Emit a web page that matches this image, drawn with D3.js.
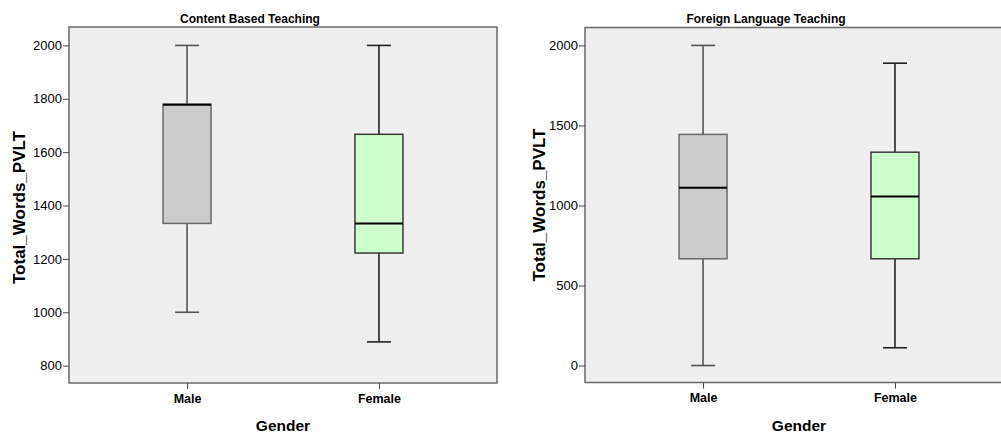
<!DOCTYPE html>
<html>
<head>
<meta charset="utf-8">
<script src="https://cdn.jsdelivr.net/npm/d3@7"></script>
<style>
  html, body { margin: 0; padding: 0; background: #ffffff; }
  svg { display: block; font-family: "Liberation Sans", Arial, sans-serif; }
</style>
</head>
<body>
<svg id="chart" width="1001" height="433"></svg>
<script>
// Category labels shared by both panels
const genders = ["Male", "Female"];

// Five-number summaries (min, Q1, median, Q3, max) per gender
const contentMin    = [1000, 889];
const contentQ1     = [1333, 1222];
const contentMedian = [1778, 1333];
const contentQ3     = [1780, 1667];
const contentMax    = [2000, 2000];

const foreignMin    = [0, 111];
const foreignQ1     = [667, 667];
const foreignMedian = [1111, 1056];
const foreignQ3     = [1444, 1333];
const foreignMax    = [2000, 1889];

// Axis tick values
const contentTicks = [800, 1000, 1200, 1400, 1600, 1800, 2000];
const foreignTicks = [0, 500, 1000, 1500, 2000];

const fills   = ["#cccccc", "#ccffcc"];
const strokes = ["#6a6a6a", "#3a3a3a"];
const whiskerStrokes = ["#555555", "#222222"];

function rows(mins, q1s, meds, q3s, maxs) {
  return genders.map((g, i) => ({
    gender: g, i, min: mins[i], q1: q1s[i], median: meds[i], q3: q3s[i], max: maxs[i]
  }));
}

const svg = d3.select("#chart");

function panel(opts) {
  const g = svg.append("g");
  const x = d3.scalePoint().domain(genders).range([opts.x0, opts.x1]).padding(0.615);
  const y = d3.scaleLinear().domain(opts.yDomain).range([opts.y1, opts.y0]);

  // plot area
  g.append("rect")
    .attr("x", opts.x0).attr("y", opts.y0)
    .attr("width", opts.x1 - opts.x0).attr("height", opts.y1 - opts.y0)
    .attr("fill", "#efefef")
    .attr("stroke", "#6a6a6a").attr("stroke-width", 1.5);

  // y axis
  const yAxis = g.append("g")
    .attr("transform", `translate(${opts.x0},0)`)
    .call(d3.axisLeft(y).tickValues(opts.ticks).tickSize(6).tickPadding(1).tickFormat(d3.format("d")));
  yAxis.select(".domain").remove();
  yAxis.selectAll(".tick line").attr("stroke", "#444").attr("stroke-width", 1);
  yAxis.selectAll(".tick text")
    .attr("fill", "#000").style("font-size", "13px").style("font-family", "'Liberation Sans', Arial, sans-serif");

  // x axis
  const xAxis = g.append("g")
    .attr("transform", `translate(0,${opts.y1})`)
    .call(d3.axisBottom(x).tickSize(6).tickPadding(5));
  xAxis.select(".domain").remove();
  xAxis.selectAll(".tick line").attr("stroke", "#444").attr("stroke-width", 1);
  xAxis.selectAll(".tick text")
    .attr("fill", "#000").style("font-size", "12.5px").style("font-weight", "bold")
    .style("font-family", "'Liberation Sans', Arial, sans-serif");

  const boxW = 48, capW = 24;
  const boxes = g.selectAll("g.box").data(opts.data).join("g").attr("class", "box");

  // whiskers
  boxes.append("line")
    .attr("x1", d => x(d.gender)).attr("x2", d => x(d.gender))
    .attr("y1", d => y(d.max)).attr("y2", d => y(d.q3))
    .attr("stroke", d => whiskerStrokes[d.i]).attr("stroke-width", 1.6);
  boxes.append("line")
    .attr("x1", d => x(d.gender)).attr("x2", d => x(d.gender))
    .attr("y1", d => y(d.q1)).attr("y2", d => y(d.min))
    .attr("stroke", d => whiskerStrokes[d.i]).attr("stroke-width", 1.6);
  // caps
  boxes.append("line")
    .attr("x1", d => x(d.gender) - capW / 2).attr("x2", d => x(d.gender) + capW / 2)
    .attr("y1", d => y(d.max)).attr("y2", d => y(d.max))
    .attr("stroke", d => whiskerStrokes[d.i]).attr("stroke-width", 1.6);
  boxes.append("line")
    .attr("x1", d => x(d.gender) - capW / 2).attr("x2", d => x(d.gender) + capW / 2)
    .attr("y1", d => y(d.min)).attr("y2", d => y(d.min))
    .attr("stroke", d => whiskerStrokes[d.i]).attr("stroke-width", 1.6);
  // box
  boxes.append("rect")
    .attr("x", d => x(d.gender) - boxW / 2).attr("width", boxW)
    .attr("y", d => y(d.q3)).attr("height", d => y(d.q1) - y(d.q3))
    .attr("fill", d => fills[d.i]).attr("stroke", d => strokes[d.i]).attr("stroke-width", 1.5);
  // median
  boxes.append("line")
    .attr("x1", d => x(d.gender) - boxW / 2).attr("x2", d => x(d.gender) + boxW / 2)
    .attr("y1", d => y(d.median)).attr("y2", d => y(d.median))
    .attr("stroke", "#000").attr("stroke-width", 2);

  // title
  g.append("text")
    .attr("x", opts.titleX).attr("y", 23)
    .attr("text-anchor", "middle")
    .style("font-size", "12px").style("font-weight", "bold").attr("fill", "#000")
    .text(opts.title);

  // y axis title
  g.append("text")
    .attr("transform", `translate(${opts.yLabelX},${opts.yLabelY}) rotate(-90)`)
    .attr("text-anchor", "middle")
    .style("font-size", "17px").style("font-weight", "bold").attr("fill", "#000")
    .text("Total_Words_PVLT");

  // x axis title
  g.append("text")
    .attr("x", (opts.x0 + opts.x1) / 2).attr("y", 431)
    .attr("text-anchor", "middle")
    .style("font-size", "15.5px").style("font-weight", "bold").attr("fill", "#000")
    .text("Gender");
}

panel({
  x0: 69, x1: 497, y0: 27, y1: 383,
  yDomain: [735, 2069],
  ticks: contentTicks,
  data: rows(contentMin, contentQ1, contentMedian, contentQ3, contentMax),
  title: "Content Based Teaching",
  titleX: 250,
  yLabelX: 25, yLabelY: 207.5
});

panel({
  x0: 585, x1: 1013, y0: 27.5, y1: 382.5,
  yDomain: [-106, 2112],
  ticks: foreignTicks,
  data: rows(foreignMin, foreignQ1, foreignMedian, foreignQ3, foreignMax),
  title: "Foreign Language Teaching",
  titleX: 766,
  yLabelX: 545, yLabelY: 205
});
</script>
</body>
</html>
